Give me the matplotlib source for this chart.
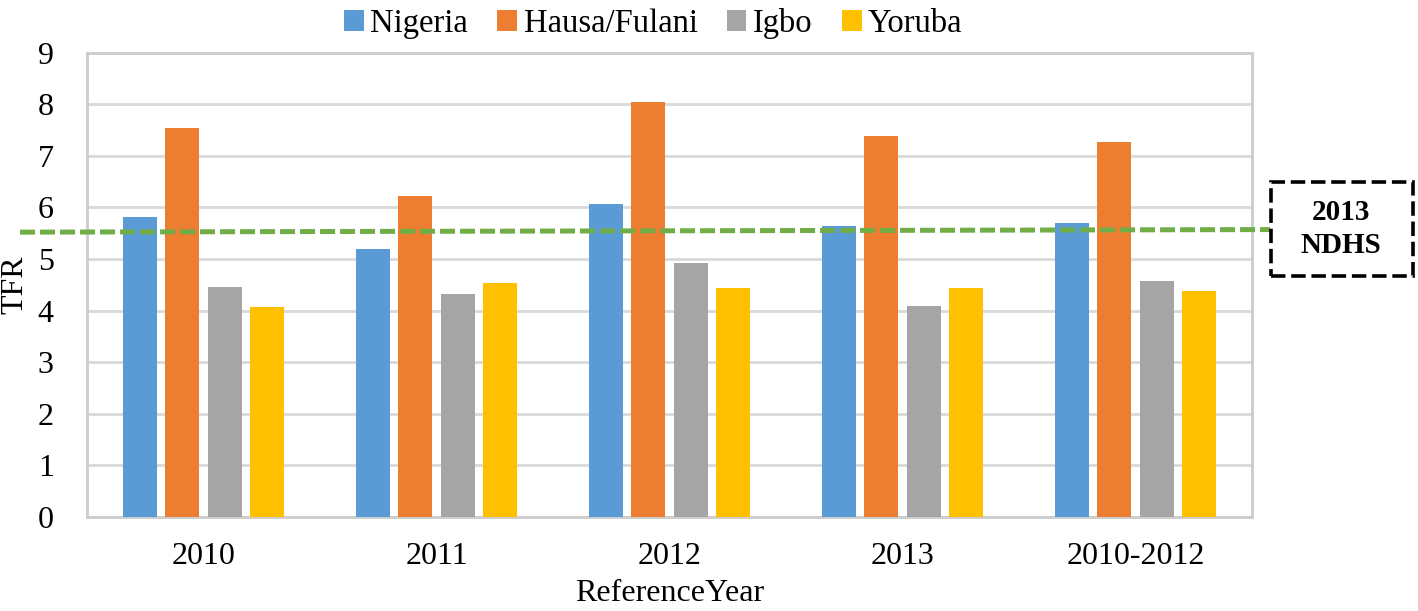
import matplotlib
matplotlib.use("Agg")
import matplotlib.pyplot as plt
from matplotlib.patches import FancyBboxPatch
import numpy as np

plt.rcParams['font.family'] = ['Liberation Serif', 'DejaVu Serif']

years = ['2010', '2011', '2012', '2013', '2010-2012']
nigeria = [5.81, 5.20, 6.07, 5.63, 5.70]
hausa = [7.54, 6.22, 8.04, 7.38, 7.27]
igbo = [4.45, 4.32, 4.92, 4.08, 4.57]
yoruba = [4.07, 4.53, 4.44, 4.44, 4.37]
ndhs_line = [5.52, 5.57]  # drawn slightly tilted in the source

series = [('Nigeria', nigeria, '#5B9BD5'),
          ('Hausa/Fulani', hausa, '#ED7D31'),
          ('Igbo', igbo, '#A5A5A5'),
          ('Yoruba', yoruba, '#FFC000')]

fig = plt.figure(figsize=(14.18, 6.11), dpi=100)
ax = fig.add_axes([0.0614, 0.1538, 0.8215, 0.7602])

x = np.arange(len(years))
step = 0.1815
width = 0.146
for i, (name, vals, col) in enumerate(series):
    ax.bar(x + (i - 1.5) * step, vals, width, color=col, label=name, zorder=3)

ax.set_xlim(-0.5, 4.5)
ax.set_ylim(0, 9)
ax.set_yticks(range(10))
ax.set_xticks(x)
ax.set_xticklabels(years)
ax.tick_params(length=0, labelsize=23)
ax.tick_params(axis='x', pad=18)
ax.tick_params(axis='y', pad=24)
ax.grid(axis='y', color='#d9d9d9', linewidth=2, zorder=0)
for s in ax.spines.values():
    s.set_color('#cccccc')
    s.set_linewidth(2)

ax.set_ylabel('TFR', fontsize=23, labelpad=6)
ax.set_xlabel('ReferenceYear', fontsize=23, labelpad=6)

# green dashed reference line, runs past the plot edges
ax.plot([-0.7876, 4.577], ndhs_line, color='#70AD47', lw=3.6,
        dashes=(3.0, 1.0), clip_on=False, zorder=4)

# dashed box with the label
box = FancyBboxPatch((1271 / 1418, (611 - 276) / 611), 142 / 1418, 94 / 611,
                     boxstyle='square,pad=0', transform=fig.transFigure,
                     fill=False, edgecolor='black', lw=2.6, linestyle=(0, (4, 1.6)))
fig.patches.append(box)
fig.text(1341 / 1418, (611 - 229) / 611, '2013\nNDHS', ha='center', va='center',
         fontsize=21, fontweight='bold', linespacing=1.25)

fig.legend(loc='upper left', bbox_to_anchor=(0.222, 1.035), ncol=4, frameon=False,
           fontsize=23.5, handlelength=0.6, handleheight=0.6, handletextpad=0.2,
           columnspacing=0.9)

fig.savefig('out.png', dpi=100)
